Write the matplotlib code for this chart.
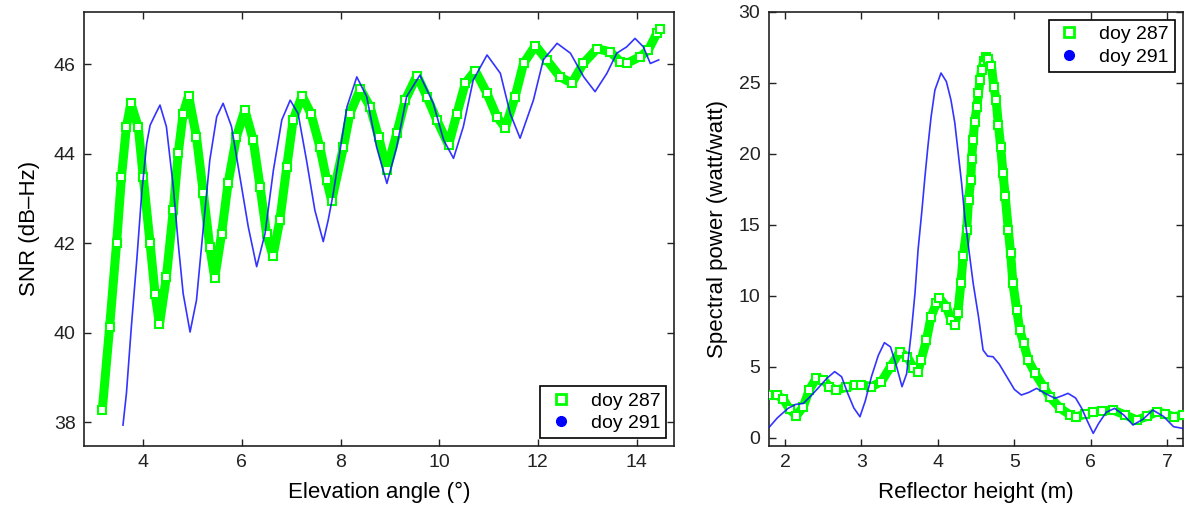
import matplotlib
matplotlib.use("Agg")
import matplotlib.pyplot as plt
from matplotlib.lines import Line2D

plt.rcParams['font.family'] = ['Liberation Sans', 'DejaVu Sans']

# ---------------- Left panel: SNR vs elevation angle ----------------
elev_287 = [3.17, 3.32, 3.46, 3.56, 3.66, 3.75, 3.90, 4.00, 4.14, 4.24, 4.33, 4.47, 4.61, 4.71,
            4.81, 4.92, 5.08, 5.22, 5.35, 5.45, 5.59, 5.72, 5.89, 6.06, 6.23, 6.37, 6.50, 6.63,
            6.77, 6.91, 7.04, 7.22, 7.40, 7.58, 7.72, 7.82, 8.06, 8.19, 8.40, 8.60, 8.77, 8.94,
            9.14, 9.31, 9.55, 9.75, 9.95, 10.19, 10.36, 10.53, 10.73, 10.97, 11.17, 11.34, 11.54,
            11.71, 11.95, 12.18, 12.45, 12.69, 12.92, 13.20, 13.47, 13.67, 13.80, 14.07, 14.24,
            14.41, 14.48]
snr_287 = [38.27, 40.14, 42.00, 43.49, 44.61, 45.13, 44.60, 43.49, 42.00, 40.88, 40.19, 41.25,
           42.74, 44.01, 44.90, 45.30, 44.38, 43.12, 41.92, 41.23, 42.22, 43.34, 44.38, 44.98,
           44.31, 43.26, 42.22, 41.72, 42.52, 43.71, 44.76, 45.30, 44.90, 44.16, 43.41, 42.95,
           44.16, 44.90, 45.45, 45.05, 44.38, 43.65, 44.46, 45.20, 45.75, 45.28, 44.76, 44.20,
           44.90, 45.58, 45.86, 45.35, 44.83, 44.58, 45.28, 46.02, 46.42, 46.10, 45.72, 45.58,
           46.02, 46.35, 46.28, 46.06, 46.02, 46.17, 46.32, 46.69, 46.78]

elev_291 = [3.59, 3.66, 3.76, 3.87, 3.97, 4.07, 4.14, 4.24, 4.34, 4.47, 4.61, 4.71, 4.81, 4.95,
            5.08, 5.22, 5.35, 5.49, 5.62, 5.79, 5.96, 6.13, 6.30, 6.47, 6.64, 6.81, 6.98, 7.14,
            7.31, 7.48, 7.65, 7.75, 7.85, 8.13, 8.33, 8.53, 8.73, 8.94, 9.14, 9.34, 9.61, 9.88,
            10.09, 10.29, 10.49, 10.69, 10.97, 11.24, 11.44, 11.64, 11.91, 12.11, 12.39, 12.66,
            12.93, 13.16, 13.40, 13.60, 13.80, 13.97, 14.14, 14.28, 14.45]
snr_291 = [37.94, 38.65, 40.14, 41.63, 43.12, 44.23, 44.64, 44.87, 45.09, 44.61, 43.26, 42.00,
           40.88, 40.02, 40.73, 42.37, 43.86, 44.83, 45.13, 44.61, 43.49, 42.37, 41.48, 42.22,
           43.64, 44.76, 45.20, 44.90, 43.86, 42.74, 42.04, 42.52, 43.10, 45.05, 45.72, 45.28,
           44.16, 43.34, 44.16, 45.28, 45.76, 45.13, 44.31, 43.90, 44.61, 45.65, 46.21, 45.80,
           44.90, 44.35, 45.20, 46.10, 46.47, 46.25, 45.72, 45.39, 45.80, 46.25, 46.39, 46.58,
           46.39, 46.02, 46.10]

# ---------------- Right panel: spectral power vs reflector height ----------------
height_287 = [1.78, 1.90, 1.98, 2.06, 2.15, 2.24, 2.32, 2.41, 2.50, 2.58, 2.67, 2.80, 2.91, 3.00,
              3.13, 3.26, 3.38, 3.50, 3.60, 3.68, 3.74, 3.78, 3.85, 3.91, 3.98, 4.02, 4.11, 4.17,
              4.22, 4.26, 4.30, 4.33, 4.375, 4.40, 4.43, 4.44, 4.46, 4.48, 4.51, 4.53, 4.55, 4.57,
              4.60, 4.63, 4.66, 4.70, 4.73, 4.76, 4.79, 4.82, 4.85, 4.88, 4.92, 4.95, 4.98, 5.03,
              5.07, 5.12, 5.18, 5.27, 5.38, 5.46, 5.60, 5.73, 5.81, 5.92, 6.03, 6.15, 6.29, 6.45,
              6.60, 6.73, 6.86, 6.97, 7.08, 7.20]
power_287 = [3.00, 3.00, 2.70, 2.00, 1.55, 2.20, 3.40, 4.20, 4.10, 3.60, 3.35, 3.55, 3.72, 3.75,
             3.60, 3.95, 5.00, 6.05, 5.70, 4.90, 4.66, 5.48, 6.90, 8.53, 9.48, 9.83, 9.24, 8.30,
             7.95, 8.77, 10.89, 12.80, 14.65, 16.76, 18.17, 19.63, 21.00, 22.28, 23.34, 24.29,
             25.23, 25.93, 26.52, 26.80, 26.69, 26.16, 24.75, 23.82, 22.05, 20.52, 18.65, 17.00,
             14.65, 13.00, 10.90, 9.00, 7.60, 6.66, 5.48, 4.54, 3.60, 2.89, 2.07, 1.60, 1.48,
             1.65, 1.83, 1.90, 1.95, 1.60, 1.25, 1.50, 1.83, 1.70, 1.48, 1.60]

height_291 = [1.78, 1.90, 2.04, 2.14, 2.24, 2.33, 2.43, 2.55, 2.65, 2.74, 2.82, 2.90, 2.98, 3.05,
              3.13, 3.22, 3.30, 3.38, 3.46, 3.53, 3.59, 3.65, 3.70, 3.74, 3.79, 3.83, 3.87, 3.91,
              3.96, 4.04, 4.11, 4.17, 4.22, 4.26, 4.31, 4.35, 4.41, 4.46, 4.53, 4.59, 4.65, 4.72,
              4.80, 4.90, 5.00, 5.09, 5.19, 5.29, 5.41, 5.53, 5.62, 5.70, 5.80, 5.88, 5.96, 6.03,
              6.10, 6.20, 6.31, 6.43, 6.55, 6.68, 6.81, 6.95, 7.08, 7.20]
power_291 = [0.66, 1.40, 2.07, 2.35, 2.42, 2.90, 3.48, 4.20, 4.66, 4.30, 3.13, 2.10, 1.48, 2.60,
             4.30, 5.80, 6.70, 6.40, 5.00, 3.60, 4.50, 7.36, 10.20, 13.24, 16.00, 18.40, 20.60,
             22.60, 24.50, 25.70, 25.10, 23.80, 22.20, 20.30, 17.90, 15.60, 13.00, 10.90, 8.53,
             6.18, 5.75, 5.71, 5.20, 4.30, 3.40, 3.01, 3.20, 3.48, 3.10, 2.78, 2.95, 3.13, 2.80,
             2.07, 1.10, 0.31, 1.00, 1.80, 2.07, 1.60, 0.90, 1.30, 1.95, 1.50, 0.78, 0.66]

labels = ['doy 287', 'doy 291']
green = '#00ff00'
blue = '#1010ff'

fig = plt.figure(figsize=(11.84, 5.11), dpi=100)
W, H = 1184.0, 511.0
bottom = (H - 445.7) / H
height = (445.7 - 12.0) / H
ax1 = fig.add_axes([84 / W, bottom, (674 - 84) / W, height])
ax2 = fig.add_axes([768.7 / W, bottom, (1182.7 - 768.7) / W, height])

# left
ax1.plot(elev_287, snr_287, color=green, lw=6.5, solid_capstyle='butt', solid_joinstyle='round', zorder=2)
ax1.plot(elev_287, snr_287, ls='none', marker='s', ms=6, mfc='white', mec=green, mew=1.5, zorder=3)
ax1.plot(elev_291, snr_291, color=blue, lw=1.2, alpha=0.85, zorder=4)
ax1.set_xlim(2.80, 14.76)
ax1.set_ylim(37.48, 47.17)
ax1.set_xticks([4, 6, 8, 10, 12, 14])
ax1.set_yticks([38, 40, 42, 44, 46])
ax1.set_xlabel('Elevation angle (°)', fontsize=16, labelpad=8)
ax1.set_ylabel('SNR (dB–Hz)', fontsize=16, labelpad=10)

# right
ax2.plot(height_287, power_287, color=green, lw=6.5, solid_capstyle='butt', solid_joinstyle='round', zorder=2)
ax2.plot(height_287, power_287, ls='none', marker='s', ms=6, mfc='white', mec=green, mew=1.5, zorder=3)
ax2.plot(height_291, power_291, color=blue, lw=1.2, alpha=0.85, zorder=4)
ax2.set_xlim(1.787, 7.2)
ax2.set_ylim(-0.56, 30)
ax2.set_xticks([2, 3, 4, 5, 6, 7])
ax2.set_yticks([0, 5, 10, 15, 20, 25, 30])
ax2.set_xlabel('Reflector height (m)', fontsize=16, labelpad=8)
ax2.set_ylabel('Spectral power (watt/watt)', fontsize=16, labelpad=8)

handles = [Line2D([], [], ls='none', marker='s', ms=7, mfc='white', mec=green, mew=2),
           Line2D([], [], ls='none', marker='o', ms=7, color='blue')]

for ax, loc in ((ax1, 'lower right'), (ax2, 'upper right')):
    ax.tick_params(direction='in', length=5, width=1, top=True, right=True,
                   labelsize=14, pad=6, colors='#222222')
    for s in ax.spines.values():
        s.set_linewidth(1.2)
        s.set_color('#222222')
    leg = ax.legend(handles, labels, loc=loc, fontsize=14, frameon=True, fancybox=False,
                    edgecolor='black', framealpha=1, borderpad=0.3, handletextpad=0.8,
                    labelspacing=0.25, handlelength=1.5, borderaxespad=0.4)
    leg.get_frame().set_linewidth(1.2)

fig.savefig('out.png', dpi=100)
